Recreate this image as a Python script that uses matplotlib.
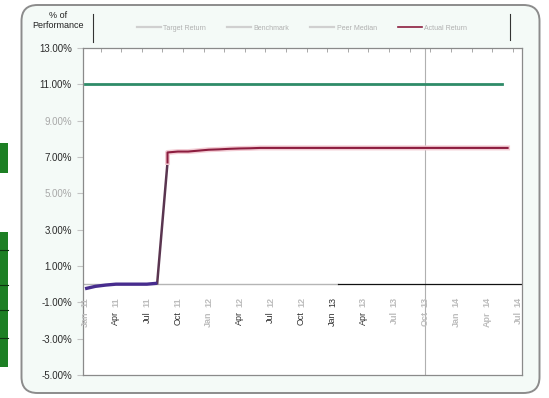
import matplotlib.pyplot as plt
import numpy as np
from matplotlib.patches import FancyBboxPatch, Rectangle
from matplotlib.lines import Line2D

plt.rcParams['font.family'] = ['Liberation Sans', 'DejaVu Sans']

# months are counted from Jan 2011 (0 = Jan 11)
target_months = [0, 40.5]
target_rate = [11.0, 11.0]

start_months = [0, 1, 2, 3, 4, 5, 6, 7]
start_rate = [-0.25, -0.12, -0.05, 0.0, 0.0, 0.0, 0.0, 0.05]

jump_months = [7, 8]
jump_rate = [0.05, 6.7]

actual_months = [8, 8, 9, 10, 11, 12, 13, 14, 15, 16, 17, 18, 19, 20, 21, 22, 23,
                 24, 25, 26, 27, 28, 29, 30, 31, 32, 33, 34, 35, 36, 37, 38, 39, 40, 41]
actual_rate = [6.7, 7.25, 7.3, 7.3, 7.35, 7.4, 7.42, 7.45, 7.47, 7.48, 7.5, 7.5,
               7.5, 7.5, 7.5, 7.5, 7.5, 7.5, 7.5, 7.5, 7.5, 7.5, 7.5, 7.5, 7.5,
               7.5, 7.5, 7.5, 7.5, 7.5, 7.5, 7.5, 7.5, 7.5, 7.5]

marker_month = 33   # Oct 13

tick_months = [0, 3, 6, 9, 12, 15, 18, 21, 24, 27, 30, 33, 36, 39, 42]
tick_names = ['Jan', 'Apr', 'Jul', 'Oct', 'Jan', 'Apr', 'Jul', 'Oct',
              'Jan', 'Apr', 'Jul', 'Oct', 'Jan', 'Apr', 'Jul']
tick_years = ['11', '11', '11', '11', '12', '12', '12', '12',
              '13', '13', '13', '13', '14', '14', '14']
sharp_names = [False, True, True, True, False, True, True, True,
               True, True, False, False, False, False, False]
sharp_years = [False] * 8 + [True] + [False] * 6

y_ticks = [-5, -3, -1, 1, 3, 5, 7, 9, 11, 13]
y_labels = ['-5.00%', '-3.00%', '-1.00%', '1.00%', '3.00%',
            '5.00%', '7.00%', '9.00%', '11.00%', '13.00%']
y_faint = [False, False, False, False, False, True, False, True, False, False]

legend_labels = ['Target Return', 'Benchmark', 'Peer Median', 'Actual Return']

fig = plt.figure(figsize=(5.49, 3.98), dpi=100, facecolor='white')

# rounded frame round the whole chart
frame = FancyBboxPatch((0.215, 0.05), 5.18, 3.88,
                       boxstyle='round,pad=0,rounding_size=0.16',
                       transform=fig.dpi_scale_trans, facecolor='#f4faf7',
                       edgecolor='#8c8c8c', linewidth=1.4, zorder=-2)
fig.patches.append(frame)

# green blocks on the far left
for y0, h in [(2.25, 0.30), (0.31, 1.35)]:
    fig.patches.append(Rectangle((0.0, y0), 0.08, h, transform=fig.dpi_scale_trans,
                                 facecolor='#1d7f24', edgecolor='none', zorder=-1))
for yl in [1.48, 1.13, 0.88, 0.60]:
    fig.add_artist(Line2D([0.0, 0.08], [yl, yl], transform=fig.dpi_scale_trans,
                          color='#0d3310', lw=0.8))

ax = fig.add_axes([83 / 549, 23 / 398, 439 / 549, 327 / 398])
ax.set_zorder(2)
ax.set_facecolor('white')
ax.set_xlim(-0.2, 42.4)
ax.set_ylim(-5, 13)

ax.axvline(marker_month, color='#b0b0b0', lw=0.8, zorder=1)
ax.plot([-0.2, 24.5], [0, 0], color='#b5b5b5', lw=1.0, zorder=1)
ax.plot([24.5, 42.4], [0, 0], color='#111111', lw=0.9, zorder=1)

ax.plot(target_months, target_rate, color='#2e8b68', lw=2.0, zorder=3)
ax.plot(start_months, start_rate, color='#472c8e', lw=2.4, zorder=4,
        solid_capstyle='butt')
ax.plot(jump_months, jump_rate, color='#5a3550', lw=1.8, zorder=3)
ax.plot(actual_months, actual_rate, color='#f3ccd4', lw=3.6, zorder=3)
ax.plot(actual_months, actual_rate, color='#8c1d3f', lw=1.5, zorder=4)

ax.set_yticks(y_ticks)
ax.set_yticklabels(y_labels, fontsize=7)
for lab, faint in zip(ax.get_yticklabels(), y_faint):
    lab.set_color('#a8a8a8' if faint else '#2a2a2a')
ax.tick_params(axis='y', length=4, width=0.8, color='#c4c4c4', pad=4)

# small ticks along the top border
ax.set_xticks(np.arange(1.5, 42, 2))
ax.xaxis.set_ticks_position('top')
ax.tick_params(axis='x', direction='in', length=3, width=0.6, color='#9a9a9a',
               labeltop=False, labelbottom=False)

for sp in ax.spines.values():
    sp.set_color('#8a8a8a')
    sp.set_linewidth(0.9)

# month labels sit just under the zero line
for m, name, yr, s_name, s_year in zip(tick_months, tick_names, tick_years,
                                       sharp_names, sharp_years):
    ax.annotate(yr, (m, 0), xytext=(0, -9.5), textcoords='offset points',
                rotation=90, ha='center', va='top', fontsize=6.5,
                color='#333333' if s_year else '#bdbdbd',
                fontweight='normal' if s_year else 'bold', annotation_clip=False)
    ax.annotate(name, (m, 0), xytext=(0, -19.5), textcoords='offset points',
                rotation=90, ha='center', va='top', fontsize=6.5,
                color='#333333' if s_name else '#bdbdbd',
                fontweight='normal' if s_name else 'bold', annotation_clip=False)

fig.text(58 / 549, 1 - 15 / 398, '% of', ha='center', va='center', fontsize=6.5,
         color='#222222')
fig.text(58 / 549, 1 - 26 / 398, 'Performance', ha='center', va='center',
         fontsize=6.5, color='#222222')

# legend strip between two upright rules
for xl, y_top, y_bot in [(93, 14, 42), (510, 14, 40)]:
    fig.add_artist(Line2D([xl / 549, xl / 549], [1 - y_top / 398, 1 - y_bot / 398],
                          color='#333333', lw=0.8))

handles = [Line2D([], [], color='#d0d0d0', lw=1.6),
           Line2D([], [], color='#d0d0d0', lw=1.6),
           Line2D([], [], color='#d0d0d0', lw=1.6),
           Line2D([], [], color='#8c1d3f', lw=1.2)]
leg = fig.legend(handles, legend_labels, loc='center', ncol=4,
                 bbox_to_anchor=(302 / 549, 1 - 28 / 398), frameon=False,
                 fontsize=5, handlelength=3.5, columnspacing=3.0, handletextpad=0.3)
for t in leg.get_texts():
    t.set_color('#b0b0b0')

fig.savefig('out.png', dpi=100)
